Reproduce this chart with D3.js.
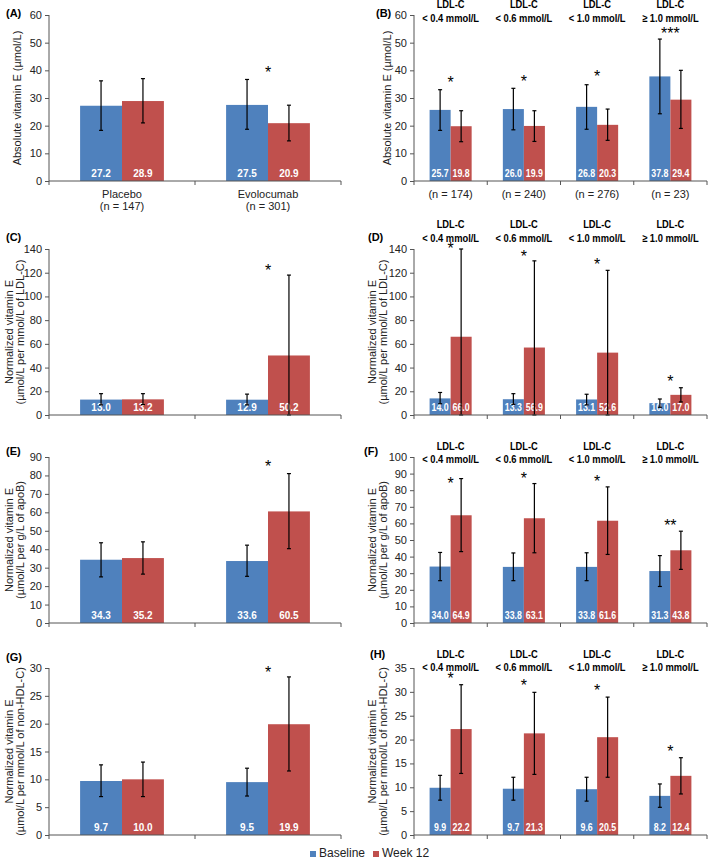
<!DOCTYPE html>
<html><head><meta charset="utf-8">
<script src="https://cdn.jsdelivr.net/npm/d3@7"></script>
<style>body{margin:0;background:#fff} svg{display:block} text{font-family:"Liberation Sans",Arial,sans-serif}</style>
</head><body><svg id="chart" width="709" height="859"></svg>
<script>
// ---------- data ----------
const series = ["Baseline", "Week 12"];
const leftCats = ["Placebo", "Evolocumab"];
const leftN = ["(n = 147)", "(n = 301)"];
const rightHead1 = ["LDL-C", "LDL-C", "LDL-C", "LDL-C"];
const rightHead2 = ["< 0.4 mmol/L", "< 0.6 mmol/L", "< 1.0 mmol/L", "≥ 1.0 mmol/L"];
const rightN = ["(n = 174)", "(n = 240)", "(n = 276)", "(n = 23)"];

// Panel A
const aBase = [27.2, 27.5], aWeek = [28.9, 20.9];
const aBaseLo = [18.3, 18.7], aBaseHi = [36.2, 36.7];
const aWeekLo = [21.0, 14.5], aWeekHi = [37.0, 27.4];
const aStars = ["", "*"], aStarAt = [0, 40.5];
// Panel B
const bBase = [25.7, 26.0, 26.8, 37.8], bWeek = [19.8, 19.9, 20.3, 29.4];
const bBaseLo = [18.3, 18.5, 18.7, 24.3], bBaseHi = [33.0, 33.5, 34.8, 51.3];
const bWeekLo = [14.2, 14.3, 14.7, 19.0], bWeekHi = [25.4, 25.4, 26.0, 40.0];
const bStars = ["*", "*", "*", "***"], bStarAt = [37, 37.2, 39, 54.5];
// Panel C
const cBase = [13.0, 12.9], cWeek = [13.2, 50.2];
const cBaseLo = [8.5, 8.5], cBaseHi = [18.0, 17.6];
const cWeekLo = [8.8, 0], cWeekHi = [18.0, 118.0];
const cStars = ["", "*"], cStarAt = [0, 125];
// Panel D
const dBase = [14.0, 13.3, 13.1, 10.0], dWeek = [66.0, 56.9, 52.6, 17.0];
const dBaseLo = [9.5, 9.0, 8.5, 6.5], dBaseHi = [19.0, 18.0, 17.5, 13.5];
const dWeekLo = [0, 0, 0, 11.0], dWeekHi = [140, 130, 122, 23];
const dStars = ["*", "*", "*", "*"], dStarAt = [143.5, 137, 130, 31];
// Panel E
const eBase = [34.3, 33.6], eWeek = [35.2, 60.5];
const eBaseLo = [25.0, 25.3], eBaseHi = [43.5, 42.2];
const eWeekLo = [26.5, 40.3], eWeekHi = [44.0, 81.0];
const eStars = ["", "*"], eStarAt = [0, 86.5];
// Panel F
const fBase = [34.0, 33.8, 33.8, 31.3], fWeek = [64.9, 63.1, 61.6, 43.8];
const fBaseLo = [25.5, 25.5, 25.5, 22.0], fBaseHi = [42.5, 42.2, 42.3, 40.6];
const fWeekLo = [43.0, 42.3, 41.3, 32.3], fWeekHi = [87.0, 84.0, 82.0, 55.3];
const fStars = ["*", "*", "*", "**"], fStarAt = [86.2, 89.3, 87.3, 60.8];
// Panel G
const gBase = [9.7, 9.5], gWeek = [10.0, 19.9];
const gBaseLo = [6.9, 7.0], gBaseHi = [12.6, 12.0];
const gWeekLo = [6.9, 11.5], gWeekHi = [13.1, 28.4];
const gStars = ["", "*"], gStarAt = [0, 29.8];
// Panel H
const hBase = [9.9, 9.7, 9.6, 8.2], hWeek = [22.2, 21.3, 20.5, 12.4];
const hBaseLo = [7.3, 7.3, 7.1, 5.8], hBaseHi = [12.5, 12.1, 12.1, 10.7];
const hWeekLo = [12.9, 12.7, 12.1, 8.6], hWeekHi = [31.5, 29.9, 28.9, 16.2];
const hStars = ["*", "*", "*", "*"], hStarAt = [33.5, 32, 31, 18.3];

// Axis tick ranges
const yMaxes = {A: 60, B: 60, C: 140, D: 140, E: 90, F: 100, G: 30, H: 35};
const ySteps = {A: 10, B: 10, C: 20, D: 20, E: 10, F: 10, G: 5, H: 5};
const yLabelA = ["Absolute vitamin E (µmol/L)"];
const yLabelC = ["Normalized vitamin E", "(µmol/L per mmol/L of LDL-C)"];
const yLabelE = ["Normalized vitamin E", "(µmol/L per g/L of apoB)"];
const yLabelG = ["Normalized vitamin E", "(µmol/L per mmol/L of non-HDL-C)"];

// ---------- layout ----------
const colors = ["#4F81BD", "#C0504D"];
const svg = d3.select("#chart");
const L = {x0: 49, x1: 341}, R = {x0: 414, x1: 707};
const rows = [{top: 15, bottom: 181}, {top: 249, bottom: 415}, {top: 457, bottom: 623}, {top: 668, bottom: 835}];

const panels = [
  {id: "A", col: L, row: rows[0], base: aBase, week: aWeek, bLo: aBaseLo, bHi: aBaseHi, wLo: aWeekLo, wHi: aWeekHi, stars: aStars, starAt: aStarAt, ylab: yLabelA, ylabX: [21], letter: [6, 17], cats: true},
  {id: "B", col: R, row: rows[0], base: bBase, week: bWeek, bLo: bBaseLo, bHi: bBaseHi, wLo: bWeekLo, wHi: bWeekHi, stars: bStars, starAt: bStarAt, ylab: yLabelA, ylabX: [391], letter: [376, 17], head: [8, 22], nlab: true},
  {id: "C", col: L, row: rows[1], base: cBase, week: cWeek, bLo: cBaseLo, bHi: cBaseHi, wLo: cWeekLo, wHi: cWeekHi, stars: cStars, starAt: cStarAt, ylab: yLabelC, ylabX: [13, 24], letter: [6, 241]},
  {id: "D", col: R, row: rows[1], base: dBase, week: dWeek, bLo: dBaseLo, bHi: dBaseHi, wLo: dWeekLo, wHi: dWeekHi, stars: dStars, starAt: dStarAt, ylab: yLabelC, ylabX: [376, 387], letter: [368, 241], head: [228, 242]},
  {id: "E", col: L, row: rows[2], base: eBase, week: eWeek, bLo: eBaseLo, bHi: eBaseHi, wLo: eWeekLo, wHi: eWeekHi, stars: eStars, starAt: eStarAt, ylab: yLabelE, ylabX: [13, 24], letter: [6, 455]},
  {id: "F", col: R, row: rows[2], base: fBase, week: fWeek, bLo: fBaseLo, bHi: fBaseHi, wLo: fWeekLo, wHi: fWeekHi, stars: fStars, starAt: fStarAt, ylab: yLabelE, ylabX: [376, 387], letter: [364, 455], head: [450, 463]},
  {id: "G", col: L, row: rows[3], base: gBase, week: gWeek, bLo: gBaseLo, bHi: gBaseHi, wLo: gWeekLo, wHi: gWeekHi, stars: gStars, starAt: gStarAt, ylab: yLabelG, ylabX: [13, 24], letter: [6, 661]},
  {id: "H", col: R, row: rows[3], base: hBase, week: hWeek, bLo: hBaseLo, bHi: hBaseHi, wLo: hWeekLo, wHi: hWeekHi, stars: hStars, starAt: hStarAt, ylab: yLabelG, ylabX: [376, 387], letter: [370, 658], head: [658, 671]}
];

const axisColor = "#555";
const textColor = "#222";

// helper: horizontally condensed text centred at (cx, by)
function narrowText(sel, cx, by, txt, size, bold, fill, sx) {
  return sel.append("text")
    .attr("transform", `translate(${cx},${by}) scale(${sx},1)`)
    .attr("text-anchor", "middle")
    .attr("font-size", size)
    .attr("font-weight", bold ? "bold" : "normal")
    .attr("fill", fill)
    .text(txt);
}

panels.forEach(p => {
  const g = svg.append("g");
  const yMax = yMaxes[p.id], yStep = ySteps[p.id];
  const y = d3.scaleLinear().domain([0, yMax]).range([p.row.bottom, p.row.top]);
  const idx = d3.range(p.base.length);
  const x = d3.scaleBand().domain(idx).range([p.col.x0, p.col.x1]).padding(0);
  const bw = x.bandwidth();
  const xs = d3.scaleBand().domain([0, 1]).range([bw * 0.213, bw * 0.787]).padding(0);

  const rowsData = idx.map(i => [
    {s: 0, i, v: p.base[i], lo: p.bLo[i], hi: p.bHi[i]},
    {s: 1, i, v: p.week[i], lo: p.wLo[i], hi: p.wHi[i]}
  ]).flat();

  // bars
  g.selectAll("rect.bar").data(rowsData).join("rect")
    .attr("x", d => x(d.i) + xs(d.s))
    .attr("y", d => y(d.v))
    .attr("width", xs.bandwidth())
    .attr("height", d => y(0) - y(d.v))
    .attr("fill", d => colors[d.s]);

  // value labels
  rowsData.forEach(d => {
    narrowText(g, x(d.i) + xs(d.s) + xs.bandwidth() / 2, y(0) - 4, d.v.toFixed(1),
      10.5, true, "#fff", p.col === L ? 0.95 : 0.84);
  });

  // error bars
  const eb = g.selectAll("g.eb").data(rowsData).join("g")
    .attr("transform", d => `translate(${x(d.i) + xs(d.s) + xs.bandwidth() / 2},0)`);
  eb.append("line").attr("x1", 0).attr("x2", 0)
    .attr("y1", d => y(d.lo)).attr("y2", d => y(d.hi))
    .attr("stroke", "#000").attr("stroke-width", 1.2);
  eb.append("line").attr("x1", -2).attr("x2", 2)
    .attr("y1", d => y(d.hi)).attr("y2", d => y(d.hi))
    .attr("stroke", "#000").attr("stroke-width", 1.2);
  eb.append("line").attr("x1", -2).attr("x2", 2)
    .attr("y1", d => y(d.lo)).attr("y2", d => y(d.lo))
    .attr("stroke", "#000").attr("stroke-width", 1.2);

  // y axis
  const ya = g.append("g").attr("transform", `translate(${p.col.x0},0)`)
    .call(d3.axisLeft(y).tickValues(d3.range(0, yMax + 1e-9, yStep)).tickSize(4).tickPadding(3).tickFormat(d3.format("d")));
  ya.select(".domain").attr("stroke", axisColor).attr("d", `M0,${y(yMax)}V${y(0)}`);
  ya.selectAll(".tick line").attr("stroke", axisColor);
  ya.selectAll(".tick text").attr("fill", textColor).attr("font-size", 11).attr("font-family", '"Liberation Sans",Arial,sans-serif');

  // x axis with ticks at band boundaries
  const bounds = idx.map(i => x(i)).concat([p.col.x1]);
  g.append("line").attr("x1", p.col.x0).attr("x2", p.col.x1)
    .attr("y1", y(0)).attr("y2", y(0)).attr("stroke", axisColor);
  g.selectAll("line.xt").data(bounds).join("line")
    .attr("x1", d => d).attr("x2", d => d)
    .attr("y1", y(0)).attr("y2", y(0) + 4).attr("stroke", axisColor);

  // stars
  g.selectAll("text.star").data(idx.filter(i => p.stars[i])).join("text")
    .attr("x", i => x(i) + bw / 2)
    .attr("y", i => y(p.starAt[i]) + 9)
    .attr("text-anchor", "middle")
    .attr("font-size", 16)
    .attr("fill", "#000")
    .text(i => p.stars[i]);

  // y label
  const cy = (p.row.top + p.row.bottom) / 2;
  p.ylab.forEach((t, k) => {
    g.append("text")
      .attr("transform", `translate(${p.ylabX[k]},${cy}) rotate(-90)`)
      .attr("text-anchor", "middle")
      .attr("font-size", 11)
      .attr("fill", textColor)
      .text(t);
  });

  // panel letter
  g.append("text").attr("x", p.letter[0]).attr("y", p.letter[1])
    .attr("font-size", 11).attr("font-weight", "bold").attr("fill", "#000")
    .text(`(${p.id})`);

  // headers for right panels
  if (p.head) {
    idx.forEach(i => {
      narrowText(g, x(i) + bw / 2, p.head[0], rightHead1[i], 11, true, "#000", 0.85);
      narrowText(g, x(i) + bw / 2, p.head[1], rightHead2[i], 11, true, "#000", 0.85);
    });
  }
  // category labels for panel A
  if (p.cats) {
    idx.forEach(i => {
      g.append("text").attr("x", x(i) + bw / 2).attr("y", y(0) + 17)
        .attr("text-anchor", "middle").attr("font-size", 11).attr("fill", textColor).text(leftCats[i]);
      g.append("text").attr("x", x(i) + bw / 2).attr("y", y(0) + 29)
        .attr("text-anchor", "middle").attr("font-size", 11).attr("fill", textColor).text(leftN[i]);
    });
  }
  if (p.nlab) {
    idx.forEach(i => {
      g.append("text").attr("x", x(i) + bw / 2).attr("y", y(0) + 17)
        .attr("text-anchor", "middle").attr("font-size", 11).attr("fill", textColor).text(rightN[i]);
    });
  }
});

// legend
const legX = [310, 373];
const lg = svg.append("g");
series.forEach((s, k) => {
  lg.append("rect").attr("x", legX[k]).attr("y", 851).attr("width", 6).attr("height", 6).attr("fill", colors[k]);
  lg.append("text").attr("x", legX[k] + 9).attr("y", 857).attr("font-size", 12).attr("fill", textColor).text(s);
});
</script>
</body></html>
